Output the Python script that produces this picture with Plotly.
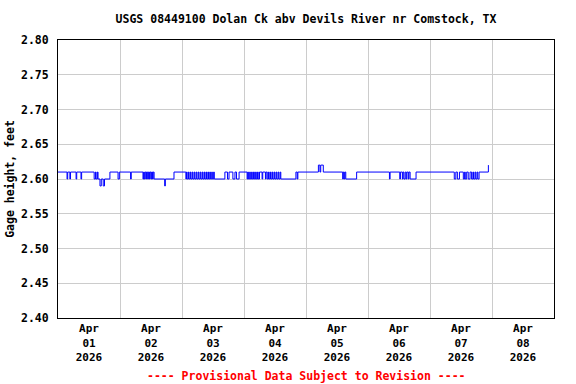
import pandas as pd
import plotly.graph_objects as go

station_title = "USGS 08449100 Dolan Ck abv Devils River nr Comstock, TX"
footer_text = "---- Provisional Data Subject to Revision ----"
y_title = "Gage height, feet"
start_time = pd.Timestamp("2026-04-01 00:00")

# change points: hours since Apr 01 00:00 and the gage height (ft) holding from then on
change_hours = [
    0.0, 3.5, 3.75, 4.6, 4.85, 7.0, 7.25, 8.9, 9.15, 14.0, 14.5, 14.75, 15.25, 15.5,
    16.25, 16.75, 17.5, 18.0, 20.1, 23.25, 23.75,
    28.1, 28.35, 32.9, 33.15, 33.4, 33.65, 34.0, 34.25, 34.7, 35.0, 35.4, 35.65,
    36.0, 36.25, 36.6, 36.85, 37.2, 41.3, 41.55, 44.9,
    49.5, 49.75, 50.0, 50.5, 50.75, 51.25, 51.5, 52.0, 52.25, 52.75, 53.0, 53.5,
    53.75, 54.25, 54.5, 55.0, 55.25, 55.75, 56.0, 56.5, 56.75, 57.25, 57.5, 58.0,
    58.25, 58.75, 59.0, 59.5, 59.75, 60.25, 60.5, 64.6, 65.6, 66.2, 67.7, 68.5,
    69.1, 70.1,
    73.2, 73.45, 73.7, 74.2, 74.45, 74.95, 75.2, 75.7, 76.0, 76.5, 76.75, 77.25,
    77.5, 78.0, 79.0, 79.25, 80.3, 80.55, 81.0, 81.5, 81.75, 82.25, 82.5, 83.0,
    83.25, 83.75, 84.0, 84.5, 84.75, 85.25, 85.5, 86.0, 86.25, 92.1, 92.6, 92.85,
    100.8, 101.4, 101.7, 102.7, 110.2, 110.45, 110.8, 111.05, 111.4, 115.6,
    128.3, 128.55, 132.3, 132.55, 133.3, 133.55, 133.9, 134.4, 134.8, 135.05,
    135.6, 135.85, 136.3, 138.6,
    153.4, 154.0, 154.6, 155.4, 156.9, 157.4, 157.65, 158.2, 158.8, 159.5, 160.1,
    160.6, 160.85, 161.4, 161.7, 162.2, 162.5, 163.0, 166.6,
]
gage_height_ft = [
    2.61, 2.60, 2.61, 2.60, 2.61, 2.60, 2.61, 2.60, 2.61, 2.60, 2.61, 2.60, 2.61, 2.60,
    2.59, 2.60, 2.59, 2.60, 2.61, 2.60, 2.61,
    2.60, 2.61, 2.60, 2.61, 2.60, 2.61, 2.60, 2.61, 2.60, 2.61, 2.60, 2.61,
    2.60, 2.61, 2.60, 2.61, 2.60, 2.59, 2.60, 2.61,
    2.60, 2.61, 2.60, 2.61, 2.60, 2.61, 2.60, 2.61, 2.60, 2.61, 2.60, 2.61,
    2.60, 2.61, 2.60, 2.61, 2.60, 2.61, 2.60, 2.61, 2.60, 2.61, 2.60, 2.61,
    2.60, 2.61, 2.60, 2.61, 2.60, 2.61, 2.60, 2.61, 2.60, 2.61, 2.60, 2.61,
    2.60, 2.61,
    2.60, 2.61, 2.60, 2.61, 2.60, 2.61, 2.60, 2.61, 2.60, 2.61, 2.60, 2.61,
    2.60, 2.61, 2.60, 2.61, 2.60, 2.61, 2.60, 2.61, 2.60, 2.61, 2.60, 2.61,
    2.60, 2.61, 2.60, 2.61, 2.60, 2.61, 2.60, 2.61, 2.60, 2.61, 2.60, 2.61,
    2.62, 2.61, 2.62, 2.61, 2.60, 2.61, 2.60, 2.61, 2.60, 2.61,
    2.60, 2.61, 2.60, 2.61, 2.60, 2.61, 2.60, 2.61, 2.60, 2.61,
    2.60, 2.61, 2.60, 2.61,
    2.60, 2.61, 2.60, 2.61, 2.60, 2.61, 2.60, 2.61, 2.60, 2.61, 2.60,
    2.61, 2.60, 2.61, 2.60, 2.61, 2.60, 2.61, 2.62,
]

day_label_times = ["2026-04-01 12:00", "2026-04-02 12:00", "2026-04-03 12:00", "2026-04-04 12:00",
                   "2026-04-05 12:00", "2026-04-06 12:00", "2026-04-07 12:00", "2026-04-08 12:00"]
day_labels = ["Apr<br>01<br>2026", "Apr<br>02<br>2026", "Apr<br>03<br>2026", "Apr<br>04<br>2026",
              "Apr<br>05<br>2026", "Apr<br>06<br>2026", "Apr<br>07<br>2026", "Apr<br>08<br>2026"]
y_ticks = [2.40, 2.45, 2.50, 2.55, 2.60, 2.65, 2.70, 2.75, 2.80]

times = start_time + pd.to_timedelta(change_hours, unit="h")

FONT = "DejaVu Sans Mono"
fnt = dict(family=FONT, size=11.5, color="black", weight="bold")

fig = go.Figure()
fig.add_trace(go.Scatter(x=times, y=gage_height_ft, mode="lines",
                         line=dict(color="#0000ff", width=1, shape="hv"),
                         hoverinfo="skip"))

fig.update_layout(
    width=576, height=384,
    margin=dict(l=58, r=22, t=40, b=66),
    paper_bgcolor="white", plot_bgcolor="white",
    showlegend=False,
    font=fnt,
    title=dict(text=station_title, x=0.5, xref="paper", xanchor="center",
               y=1 - 19 / 384, yref="container", yanchor="middle", font=fnt),
    xaxis=dict(
        range=["2026-04-01 00:00", "2026-04-09 00:00"], automargin=False,
        tickmode="array", tickvals=day_label_times, ticktext=day_labels,
        showgrid=False, ticks="", tickfont=dict(family=FONT, size=11, color="black", weight="bold"),
        minor=dict(tick0="2026-04-01", dtick=86400000, showgrid=True,
                   gridcolor="#cccccc", gridwidth=1, ticks=""),
        showline=True, linecolor="black", linewidth=1, mirror=True,
        zeroline=False, ticklabelstandoff=0,
    ),
    yaxis=dict(
        range=[2.40, 2.80], automargin=False, tickmode="array", tickvals=y_ticks, tickformat=".2f",
        showgrid=True, gridcolor="#cccccc", gridwidth=1, ticks="", tickfont=fnt,
        showline=True, linecolor="black", linewidth=1, mirror=True, zeroline=False,
        ticklabelstandoff=6,
        title=dict(text=y_title, font=fnt, standoff=3),
    ),
    annotations=[dict(text=footer_text, x=0.5, xref="paper", y=-(376 - 318) / 278, yref="paper",
                      xanchor="center", yanchor="middle", showarrow=False,
                      font=dict(family=FONT, size=11.5, color="#ff0000", weight="bold"))],
)

fig.write_html("out.html", config={"displayModeBar": False, "staticPlot": True},
               post_script="document.body.style.margin='0';document.body.style.overflow='hidden';")
